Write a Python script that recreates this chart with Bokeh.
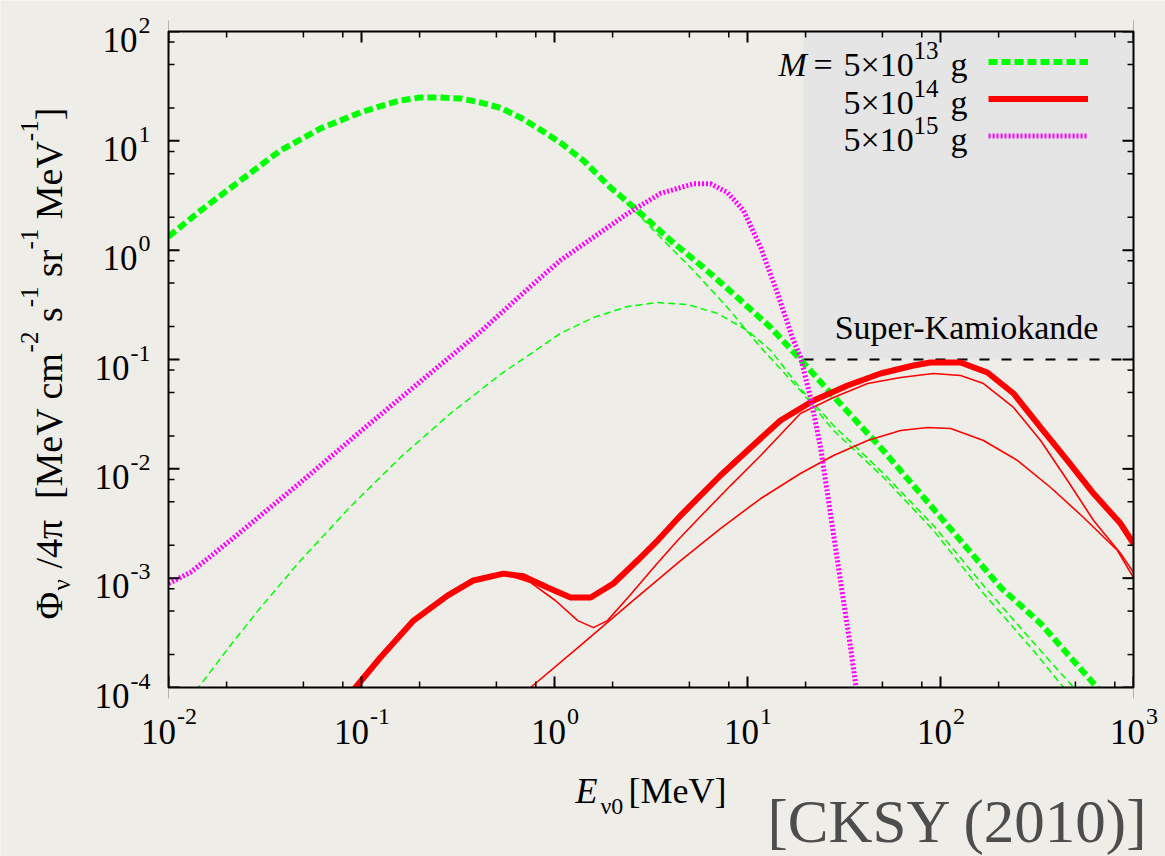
import numpy as np
from bokeh.plotting import figure
from bokeh.models import Range1d, Label, Legend, LegendItem
from bokeh.embed import file_html
from bokeh.resources import INLINE

# ------------------------------------------------------------------ data
E_RANGE = (1e-2, 1e3)          # MeV
FLUX_RANGE = (1e-4, 1e2)       # MeV cm^-2 s^-1 sr^-1 MeV^-1
X_TICK_EXP = [-2, -1, 0, 1, 2, 3]
Y_TICK_EXP = [-4, -3, -2, -1, 0, 1, 2]
MINOR_MANTISSAS = [2, 5, 8]

# M = 5x10^13 g : total flux (thick dashed)
e13_total = [0.01, 0.0147, 0.0236, 0.0380, 0.0614, 0.0989, 0.126, 0.159, 0.201,
             0.256, 0.326, 0.414, 0.526, 0.667, 0.848, 1.07, 1.41, 1.95, 2.69,
             3.99, 5.92, 8.87, 13.2, 20.5, 29.2, 48.9, 78.7, 127, 205, 330, 621,
             660]
f13_total = [1.33, 2.31, 4.34, 8.17, 13.0, 18.2, 20.8, 23.4, 24.9,
             24.9, 24.4, 22.4, 20.0, 16.3, 12.6, 9.66, 6.61, 3.74, 2.31,
             1.23, 0.693, 0.369, 0.196, 0.0845, 0.0422, 0.0157, 0.00594, 0.00221,
             0.000822, 0.000385, 0.000109, 0.000096]
# M = 5x10^13 g : primary component (thin dashed)
e13_primary = [1.95, 2.28, 3.54, 5.25, 7.87, 11.7, 18.8, 27.9, 50.7, 92.0, 167,
               303, 434, 500]
f13_primary = [3.74, 2.90, 1.31, 0.652, 0.299, 0.129, 0.052, 0.0224, 0.00833,
               0.00273, 0.000724, 0.000218, 0.0001, 0.000074]
# M = 5x10^13 g : secondary component (thin dashed)
e13_second = [0.0130, 0.0143, 0.0209, 0.0300, 0.0483, 0.0877, 0.159, 0.289, 0.525,
              1.07, 1.59, 2.39, 3.42, 4.89, 7.00, 10.0, 13.2, 18.8, 27.9, 50.7,
              92.0, 167, 303, 489, 564]
f13_second = [0.000076, 0.0001, 0.000242, 0.000539, 0.00145, 0.00452, 0.0127,
              0.0321, 0.0730, 0.173, 0.242, 0.305, 0.332, 0.318, 0.264, 0.184,
              0.121, 0.0543, 0.0249, 0.00906, 0.00303, 0.000857, 0.000258, 0.0001,
              0.000076]

# M = 5x10^14 g : total flux (thick solid)
e14_total = [0.0857, 0.0931, 0.1253, 0.186, 0.279, 0.380, 0.544, 0.690, 0.920,
             1.21, 1.54, 2.02, 2.69, 3.42, 4.50, 5.70, 7.24, 10.0, 14.8, 22.0,
             33.0, 48.9, 72.4, 88.7, 127, 175, 239, 330, 455, 621, 857, 1000]
f14_total = [8.45e-5, 1e-4, 1.88e-4, 4.09e-4, 6.93e-4, 9.53e-4, 1.10e-3, 1.04e-3,
             8.22e-4, 6.65e-4, 6.65e-4, 8.93e-4, 1.45e-3, 2.21e-3, 3.74e-3,
             5.70e-3, 8.69e-3, 0.0147, 0.0277, 0.0422, 0.0578, 0.0745, 0.0881,
             0.0940, 0.0940, 0.0760, 0.0489, 0.0239, 0.0119, 0.00594, 0.00316,
             0.00207]
# M = 5x10^14 g : component with low-energy bump (thin solid)
e14_bump = [0.0857, 0.0931, 0.1253, 0.186, 0.279, 0.380, 0.544, 0.752, 1.01,
            1.32, 1.59, 1.88, 2.48, 3.34, 4.34, 5.70, 8.17, 11.7, 18.8, 27.9,
            41.9, 62.1, 92.0, 127, 167, 239, 330, 455, 621, 857, 1000]
f14_bump = [8.45e-5, 1e-4, 1.88e-4, 4.09e-4, 6.93e-4, 9.53e-4, 1.10e-3, 9.12e-4,
            6.25e-4, 4.09e-4, 3.53e-4, 4.09e-4, 7.09e-4, 1.31e-3, 2.21e-3,
            3.66e-3, 7.03e-3, 0.01324, 0.0321, 0.0449, 0.0603, 0.0684, 0.0745,
            0.0714, 0.0603, 0.0364, 0.01815, 7.82e-3, 3.37e-3, 1.68e-3, 1.13e-3]
# M = 5x10^14 g : other component (thin solid)
e14_other = [0.667, 0.752, 1.36, 2.48, 4.50, 7.24, 11.7, 18.8, 27.9, 41.9, 62.1,
             85.7, 113, 167, 251, 372, 551, 826, 1000]
f14_other = [8.45e-5, 1e-4, 2.42e-4, 5.98e-4, 1.45e-3, 2.84e-3, 5.35e-3, 9.06e-3,
             0.01324, 0.01815, 0.0224, 0.0239, 0.0234, 0.01815, 0.0119, 6.75e-3,
             3.59e-3, 1.79e-3, 1.01e-3]

# M = 5x10^15 g : total flux (thick dotted)
e15_total = [0.01, 0.0130, 0.0165, 0.0209, 0.0483, 0.1, 0.202, 0.414, 0.752,
             1.07, 1.59, 2.39, 3.54, 5.25, 6.43, 7.87, 9.53, 11.7, 14.3, 17.3,
             18.8, 21.2, 23.9, 26.9, 30.3, 34.2, 36.7]
f15_total = [0.000893, 0.00113, 0.00158, 0.00221, 0.0075, 0.0224, 0.063, 0.180,
             0.466, 0.804, 1.31, 2.16, 3.30, 4.05, 4.05, 3.37, 2.31, 1.06, 0.402,
             0.149, 0.106, 0.0449, 0.0157, 0.0039, 0.000953, 0.000232, 0.000094]

# Super-Kamiokande sensitivity region
SK_E_MIN = 19.5
SK_FLUX = 0.1

LEGEND_MASS_EXP = ["13", "14", "15"]

# ------------------------------------------------------------------ layout
FONT = "Liberation Serif"
BG = "#efede7"
W, H = 1165, 856
FL, FR, FT, FB = 168, 1133, 31, 687          # box edges (canvas px)
DX = (FR - FL) / (np.log10(E_RANGE[1]) - np.log10(E_RANGE[0]))
DY = (FB - FT) / (np.log10(FLUX_RANGE[1]) - np.log10(FLUX_RANGE[0]))
X_LO = 10 ** (np.log10(E_RANGE[0]) - FL / DX)
X_HI = 10 ** (np.log10(E_RANGE[1]) + (W - FR) / DX)
Y_LO = 10 ** (np.log10(FLUX_RANGE[0]) - (H - FB) / DY)
Y_HI = 10 ** (np.log10(FLUX_RANGE[1]) + FT / DY)
BASE_FIX = 0.31     # correction of the alphabetic baseline placement (em)

p = figure(width=W, height=H, x_axis_type="log", y_axis_type="log",
           x_axis_location=None, y_axis_location=None,
           x_range=Range1d(X_LO, X_HI), y_range=Range1d(Y_LO, Y_HI),
           output_backend="svg", toolbar_location=None, min_border=0,
           background_fill_color=BG, border_fill_color=BG,
           outline_line_color=None)
p.grid.visible = False

# Super-K region
p.quad(left=[SK_E_MIN], right=[E_RANGE[1]], bottom=[SK_FLUX], top=[FLUX_RANGE[1]],
       fill_color="#e5e5e5", line_color=None)
p.line([SK_E_MIN, E_RANGE[1]], [SK_FLUX, SK_FLUX], line_color="black",
       line_width=2, line_dash="10 12")

GREEN, RED, MAGENTA = "#00ff00", "#ff0000", "#ff00ff"

r13 = p.line(e13_total, f13_total, line_color=GREEN, line_width=6, line_dash="9 4")
p.line(e13_primary, f13_primary, line_color=GREEN, line_width=1.5, line_dash="7 4")
p.line(e13_second, f13_second, line_color=GREEN, line_width=1.5, line_dash="7 4")

r14 = p.line(e14_total, f14_total, line_color=RED, line_width=6)
p.line(e14_bump, f14_bump, line_color=RED, line_width=1.6)
p.line(e14_other, f14_other, line_color=RED, line_width=1.6)

r15 = p.line(e15_total, f15_total, line_color=MAGENTA, line_width=5, line_dash="2 2")

# tick marks (centred on the box edge; outer half hidden by the masks below)
x_major = [10.0 ** k for k in X_TICK_EXP]
y_major = [10.0 ** k for k in Y_TICK_EXP]
x_minor = [m * 10.0 ** k for k in X_TICK_EXP[:-1] for m in MINOR_MANTISSAS]
y_minor = [m * 10.0 ** k for k in Y_TICK_EXP[:-1] for m in MINOR_MANTISSAS]
for yy in (FLUX_RANGE[0], FLUX_RANGE[1]):
    p.scatter(x_major, [yy] * len(x_major), marker="dash", size=22, angle=np.pi / 2,
              line_color="black", line_width=2)
    p.scatter(x_minor, [yy] * len(x_minor), marker="dash", size=12, angle=np.pi / 2,
              line_color="black", line_width=1.5)
for xx in (E_RANGE[0], E_RANGE[1]):
    p.scatter([xx] * len(y_major), y_major, marker="dash", size=22,
              line_color="black", line_width=2)
    p.scatter([xx] * len(y_minor), y_minor, marker="dash", size=12,
              line_color="black", line_width=1.5)

# masks outside the box
p.quad(left=[X_LO, E_RANGE[1], E_RANGE[0], E_RANGE[0]],
       right=[E_RANGE[0], X_HI, E_RANGE[1], E_RANGE[1]],
       bottom=[Y_LO, Y_LO, Y_LO, FLUX_RANGE[1]],
       top=[Y_HI, Y_HI, FLUX_RANGE[0], Y_HI],
       fill_color=BG, line_color=None)
# box
p.quad(left=[E_RANGE[0]], right=[E_RANGE[1]], bottom=[FLUX_RANGE[0]],
       top=[FLUX_RANGE[1]], fill_color=None, line_color="black", line_width=2)

legend = Legend(items=[LegendItem(label=" ", renderers=[r13]),
                       LegendItem(label=" ", renderers=[r14]),
                       LegendItem(label=" ", renderers=[r15])],
                location=(988, H - 154), orientation="vertical",
                glyph_width=100, glyph_height=37, label_width=0,
                label_standoff=0, padding=0, margin=0, spacing=0,
                background_fill_alpha=0, border_line_alpha=0,
                label_text_font_size="12px")
p.add_layout(legend)


# ------------------------------------------------------------------ text
def canvas_label(cx, cy, text, size, align="left", style="normal", angle=0.0,
                 color="black"):
    if angle == 0.0:
        cy -= BASE_FIX * size
    else:
        cx -= BASE_FIX * size
    p.add_layout(Label(x=E_RANGE[0], y=FLUX_RANGE[0], x_offset=cx - FL,
                       y_offset=FB - cy, text=text, text_font=FONT,
                       text_font_size=f"{size}px", text_align=align,
                       text_baseline="alphabetic", text_font_style=style,
                       angle=angle, text_color=color))


def data_label(xv, yv, dx, dy, text, size, align="left"):
    p.add_layout(Label(x=xv, y=yv, x_offset=dx, y_offset=dy + BASE_FIX * size,
                       text=text, text_font=FONT, text_font_size=f"{size}px",
                       text_align=align, text_baseline="alphabetic",
                       text_color="black"))


EM = {' ': .25, '/': .278, '4': .5, 'π': .549, '[': .333, ']': .333, 'M': .889,
      'e': .444, 'V': .722, 'c': .444, 'm': .778, 's': .389, 'r': .333,
      '-': .333, '0': .5, '1': .5, '2': .5, '3': .5, 'Φ': .76, 'ν': .503}


def tw(text, size):
    return sum(EM.get(c, .5) for c in text) * size


TF, TS = 35, 24     # tick label font sizes
for k in X_TICK_EXP:
    ex = str(k)
    wtot = tw("10", TF) + tw(ex, TS)
    data_label(10.0 ** k, FLUX_RANGE[0], -wtot / 2, -55, "10", TF)
    data_label(10.0 ** k, FLUX_RANGE[0], -wtot / 2 + tw("10", TF) + 1, -36, ex, TS)
for k in Y_TICK_EXP:
    ex = str(k)
    data_label(E_RANGE[0], 10.0 ** k, -18, -1, ex, TS, align="right")
    data_label(E_RANGE[0], 10.0 ** k, -19 - tw(ex, TS), -19, "10", TF, align="right")

# y-axis title (rotated, built from pieces)
YF, YS = 38, 25
base = {"n": 60, "sub": 69, "sup": 37}
parts = [("Φ", "n", 0), ("ν", "sub", .25), ("/4π", "n", .5), ("[MeV cm", "n", 0),
         ("-2", "sup", .25), ("s", "n", 0), ("-1", "sup", .25), ("sr", "n", 0),
         ("-1", "sup", .25), ("MeV", "n", 0), ("-1", "sup", 0), ("]", "n", 0)]
pos = 619
for txt, kind, gap in parts:
    size = YF if kind == "n" else YS
    canvas_label(base[kind], pos, txt, size, angle=np.pi / 2)
    pos -= tw(txt, size) + gap * YF

# x-axis title
canvas_label(575, 802, "E", 36, style="italic")
canvas_label(600, 813, "ν0", 24)
canvas_label(628, 802, "[MeV]", 36)

# legend texts
canvas_label(778, 75, "M", 34, style="italic")
canvas_label(813, 75, "=", 34)
for i, ex in enumerate(LEGEND_MASS_EXP):
    b = 75 + 37.5 * i
    canvas_label(843, b, "5×10", 34)
    canvas_label(913, b - 17, ex, 25)
    canvas_label(950, b, "g", 34)

canvas_label(966, 338, "Super-Kamiokande", 34, align="center")
canvas_label(767, 840, "[CKSY (2010)]", 61, color="#4d4d4d")

open("out.html", "w").write(file_html(p, INLINE))
